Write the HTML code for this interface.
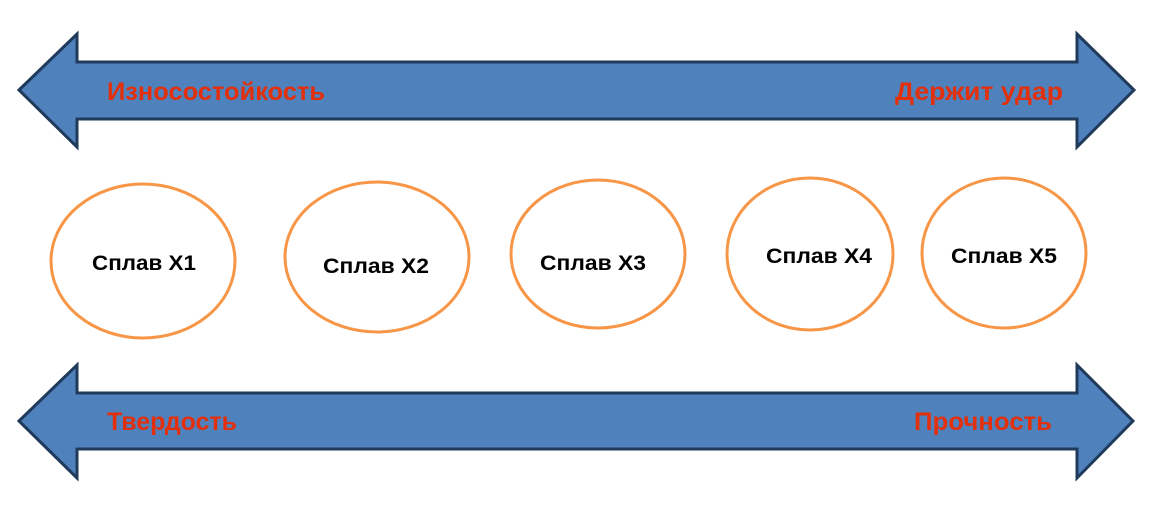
<!DOCTYPE html>
<html><head><meta charset="utf-8"><style>body{margin:0;background:#fff}</style></head><body>
<svg width="1165" height="505" xmlns="http://www.w3.org/2000/svg" font-family="Liberation Sans, DejaVu Sans, sans-serif" font-weight="bold">
<g fill="#4f81bd" stroke="#1f3a5a" stroke-width="3" stroke-linejoin="miter">
<polygon points="19,90 77,34 77,62 1077,62 1077,34 1134,90 1077,147 1077,119 77,119 77,147"/>
<polygon points="19,421 77,365 77,393 1077,393 1077,365 1133,421 1077,478 1077,449 77,449 77,478"/>
</g>
<g fill="#e3300c" font-size="25">
<text x="107" y="100" textLength="218" lengthAdjust="spacingAndGlyphs">Износостойкость</text>
<text x="895" y="100" textLength="168" lengthAdjust="spacingAndGlyphs">Держит удар</text>
<text x="107" y="430" textLength="130" lengthAdjust="spacingAndGlyphs">Твердость</text>
<text x="914" y="430" textLength="138" lengthAdjust="spacingAndGlyphs">Прочность</text>
</g>
<g fill="#fff" stroke="#f79646" stroke-width="3">
<ellipse cx="143" cy="261" rx="92" ry="77"/>
<ellipse cx="377" cy="257" rx="92" ry="75"/>
<ellipse cx="598" cy="254" rx="87" ry="74"/>
<ellipse cx="810" cy="254" rx="83" ry="76"/>
<ellipse cx="1004" cy="253" rx="82" ry="75"/>
</g>
<g fill="#000" font-size="21" text-anchor="middle">
<text x="144" y="270" textLength="104" lengthAdjust="spacingAndGlyphs">Сплав X1</text>
<text x="376" y="273" textLength="106" lengthAdjust="spacingAndGlyphs">Сплав X2</text>
<text x="593" y="270" textLength="106" lengthAdjust="spacingAndGlyphs">Сплав X3</text>
<text x="819" y="263" textLength="106" lengthAdjust="spacingAndGlyphs">Сплав X4</text>
<text x="1004" y="263" textLength="106" lengthAdjust="spacingAndGlyphs">Сплав X5</text>
</g>
</svg>
</body></html>
